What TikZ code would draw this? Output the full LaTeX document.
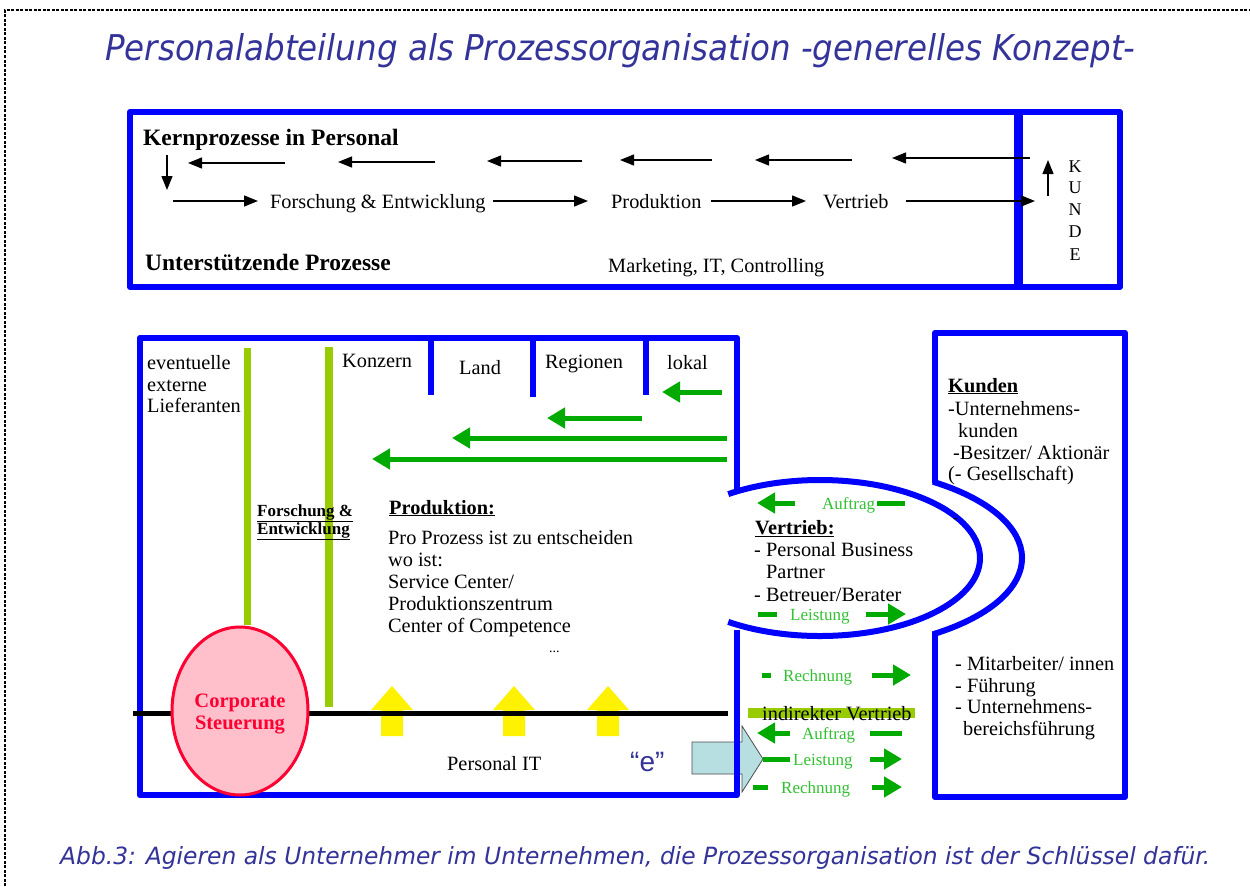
\documentclass[tikz,border=0pt]{standalone}
\usepackage{fontspec}
\setmainfont{Liberation Serif}
\newfontfamily\titlefont{DejaVu Sans}
\newfontfamily\arialfont{Liberation Sans}
\usetikzlibrary{arrows.meta}
\definecolor{tblue}{HTML}{333399}
\definecolor{bblue}{HTML}{0000FF}
\definecolor{agreen}{HTML}{00AA00}
\definecolor{tgreen}{HTML}{33C033}
\definecolor{lgreen}{HTML}{99CC00}
\definecolor{cred}{HTML}{FF0033}
\definecolor{cpink}{HTML}{FFC0CB}
\definecolor{ablue}{HTML}{B7DFE2}
\tikzset{
  t/.style={font=\fontsize{20.3}{22}\selectfont, inner sep=0pt, anchor=base west},
  tb/.style={font=\fontsize{20.3}{22}\selectfont\bfseries, inner sep=0pt, anchor=base west},
  gt/.style={font=\fontsize{17}{19}\selectfont, text=tgreen, inner sep=0pt, anchor=base west},
  garr/.style={draw=agreen, line width=5pt, -{Triangle[length=18pt,width=20pt]}},
  gdash/.style={draw=agreen, line width=5pt},
  barr/.style={line width=1.3pt, -{Triangle[length=14pt,width=11pt]}},
  bluebox/.style={draw=bblue, line width=6.5pt, line join=round},
  tabline/.style={draw=bblue, line width=6pt},
  lgbar/.style={draw=lgreen, line width=8pt},
  cstext/.style={font=\fontsize{20.5}{22}\selectfont\bfseries, text=cred, inner sep=0pt, anchor=base},
}
\begin{document}
\begin{tikzpicture}[x=1pt,y=-1pt]
\useasboundingbox (0,0) rectangle (1250,886);
\fill[white] (0,0) rectangle (1250,886);
% dashed frame
\draw[line width=1.2pt, dash pattern=on 3pt off 1.5pt] (5,886) -- (5,10) -- (1250,10);
% title
\node[inner sep=0pt, anchor=base west, text=tblue] (title) at (105,60)
  {\resizebox{1030pt}{27pt}{\titlefont\itshape Personalabteilung als Prozessorganisation -generelles Konzept-}};
% caption
\node[inner sep=0pt, anchor=base west, text=tblue] (caption) at (60,864)
  {\resizebox{1150pt}{18pt}{\titlefont\itshape Abb.3: Agieren als Unternehmer im Unternehmen, die Prozessorganisation ist der Schlüssel dafür.}};

% ---------- top box ----------
\draw[bluebox, line width=6pt] (130,112) rectangle (1120,287);
\draw[bblue, line width=9pt] (1018,112) -- (1018,287);
\node[tb, font=\fontsize{23.5}{25}\selectfont\bfseries] (kern) at (143,145) {Kernprozesse in Personal};
\node[tb, font=\fontsize{23.5}{25}\selectfont\bfseries] (unter) at (145,270) {Unterstützende Prozesse};
\node[t] (fe) at (270,208) {Forschung \& Entwicklung};
\node[t] (prod) at (611,208) {Produktion};
\node[t] (vert) at (823,208) {Vertrieb};
\node[t] (mit) at (608,272) {Marketing, IT, Controlling};
\foreach \l/\yy [count=\i] in {K/172,U/193,N/215,D/237,E/260}
  \node[font=\fontsize{18}{20}\selectfont, inner sep=0pt, anchor=base] (kd\i) at (1075,\yy) {\l};
% back arrows
\coordinate (b1s) at (285,163); \coordinate (b1e) at (188,163);
\coordinate (b2s) at (435,162); \coordinate (b2e) at (338,162);
\coordinate (b3s) at (582,161); \coordinate (b3e) at (487,161);
\coordinate (b4s) at (712,160); \coordinate (b4e) at (620,160);
\coordinate (b5s) at (852,160); \coordinate (b5e) at (755,160);
\coordinate (b6s) at (1030,158); \coordinate (b6e) at (892,158);
\foreach \i in {1,...,6} \draw[barr] (b\i s) -- (b\i e);
\coordinate (dns) at (167,155); \coordinate (dne) at (167,190);
\draw[barr] (dns) -- (dne);
\coordinate (ups) at (1048,196); \coordinate (upe) at (1048,160);
\draw[barr] (ups) -- (upe);
\coordinate (f1s) at (173,201); \coordinate (f1e) at (258,201);
\coordinate (f2s) at (493,201); \coordinate (f2e) at (588,201);
\coordinate (f3s) at (711,201); \coordinate (f3e) at (806,201);
\coordinate (f4s) at (906,201); \coordinate (f4e) at (1035,201);
\foreach \i in {1,...,4} \draw[barr] (f\i s) -- (f\i e);

% ---------- lower section ----------
% e arrow (behind box edge)
\draw[fill=ablue, draw=black!70, line width=0.8pt]
  (692,742) -- (742,742) -- (742,726) -- (763,759) -- (742,792) -- (742,774) -- (692,774) -- cycle;
\node[inner sep=0pt, anchor=base west, text=tblue, font=\arialfont\fontsize{28}{30}\selectfont] (e) at (630,771) {“e”};

% main box
\draw[bluebox] (737,490) -- (737,338) -- (140,338) -- (140,795) -- (737,795) -- (737,630);
\draw[tabline] (431,338) -- (431,395);
\draw[tabline] (533,338) -- (533,397);
\draw[tabline] (646,338) -- (646,395);
% Vertrieb ellipse
\fill[white] (820,558) ellipse[x radius=160, y radius=78];
\draw[bluebox, line width=6pt] (820,558) ++(125:160 and 78) arc[start angle=125, end angle=-125, x radius=160, y radius=78];
% Kunden box
\draw[bluebox] (935,483) -- (935,333) -- (1125,333) -- (1125,797) -- (935,797) -- (935,632);
\draw[bluebox, line width=6pt] (820,558) ++(56:202 and 92) arc[start angle=56, end angle=-56, x radius=202, y radius=92];

% light green bars
\draw[lgbar, line width=7pt] (247,348) -- (247,625);
\draw[lgbar] (329,347) -- (329,707);

% yellow arrows
\foreach \cx in {392,514,608}
  \fill[yellow] (\cx-11,736) -- (\cx-11,710) -- (\cx-21,710) -- (\cx,686) -- (\cx+21,710) -- (\cx+11,710) -- (\cx+11,736) -- cycle;
% black line
\coordinate (pl1) at (133,713); \coordinate (pl2) at (728,713);
\draw[line width=5pt] (pl1) -- (pl2);
% corporate steuerung
\draw[draw=cred, fill=cpink, line width=3pt] (240,711) ellipse[x radius=68, y radius=84];
\node[cstext] (cs1) at (240,707) {Corporate};
\node[cstext] (cs2) at (240,729) {Steuerung};

% green arrows at top
\coordinate (g1s) at (722,392); \coordinate (g1e) at (662,392);
\coordinate (g2s) at (642,418); \coordinate (g2e) at (547,418);
\coordinate (g3s) at (727,438); \coordinate (g3e) at (452,438);
\coordinate (g4s) at (727,459); \coordinate (g4e) at (372,459);
\foreach \i in {1,...,4} \draw[garr] (g\i s) -- (g\i e);

% texts main box
\node[t] (ev1) at (147,369) {eventuelle};
\node[t] (ev2) at (147,391) {externe};
\node[t] (ev3) at (147,412) {Lieferanten};
\node[t] (konz) at (342,367) {Konzern};
\node[t] (land) at (459,374) {Land};
\node[t] (reg) at (545,368) {Regionen};
\node[t] (lok) at (667,369) {lokal};
\node[tb, font=\fontsize{17}{19}\selectfont\bfseries] (fe1) at (257,516) {\underline{Forschung \&}};
\node[tb, font=\fontsize{17}{19}\selectfont\bfseries] (fe2) at (257,534) {\underline{Entwicklung}};
\node[tb] (prodh) at (389,514) {\underline{Produktion:}};
\node[t] (p1) at (388,544) {Pro Prozess ist zu entscheiden};
\node[t] (p2) at (388,566) {wo ist:};
\node[t] (p3) at (388,588) {Service Center/};
\node[t] (p4) at (388,610) {Produktionszentrum};
\node[t] (p5) at (388,632) {Center of Competence};
\node[t, font=\fontsize{14}{16}\selectfont] (p6) at (549,652) {...};
\node[t] (pit) at (447,770) {Personal IT};

% Vertrieb ellipse content
\coordinate (a1s) at (795,503); \coordinate (a1e) at (757,503);
\draw[garr] (a1s) -- (a1e);
\node[gt] (auf1) at (822,509) {Auftrag};
\coordinate (a1d1) at (877,503); \coordinate (a1d2) at (905,503);
\draw[gdash] (a1d1) -- (a1d2);
\node[tb] (verh) at (755,534) {\underline{Vertrieb:}};
\node[t] (v1) at (754,556) {- Personal Business};
\node[t] (v2) at (766,578) {Partner};
\node[t] (v3) at (754,601) {- Betreuer/Berater};
\coordinate (l1d1) at (758,614); \coordinate (l1d2) at (777,614);
\draw[gdash] (l1d1) -- (l1d2);
\node[gt] (lei1) at (790,620) {Leistung};
\coordinate (l1s) at (866,614); \coordinate (l1e) at (906,614);
\draw[garr] (l1s) -- (l1e);

% below ellipse
\coordinate (r1d1) at (762,675); \coordinate (r1d2) at (771,675);
\draw[gdash] (r1d1) -- (r1d2);
\node[gt] (rech1) at (783,681) {Rechnung};
\coordinate (r1s) at (872,675); \coordinate (r1e) at (911,675);
\draw[garr] (r1s) -- (r1e);

\fill[lgreen] (748,708) rectangle (915,718);
\node[t] (indv) at (762,720) {indirekter Vertrieb};

\coordinate (a2s) at (790,733); \coordinate (a2e) at (757,733);
\draw[garr] (a2s) -- (a2e);
\node[gt] (auf2) at (802,739) {Auftrag};
\coordinate (a2d1) at (870,733); \coordinate (a2d2) at (902,733);
\draw[gdash] (a2d1) -- (a2d2);

\coordinate (l2d1) at (763,759); \coordinate (l2d2) at (790,759);
\draw[gdash] (l2d1) -- (l2d2);
\node[gt] (lei2) at (793,765) {Leistung};
\coordinate (l2s) at (870,759); \coordinate (l2e) at (902,759);
\draw[garr] (l2s) -- (l2e);

\coordinate (r2d1) at (753,787); \coordinate (r2d2) at (768,787);
\draw[gdash] (r2d1) -- (r2d2);
\node[gt] (rech2) at (781,793) {Rechnung};
\coordinate (r2s) at (872,787); \coordinate (r2e) at (902,787);
\draw[garr] (r2s) -- (r2e);

% Kunden texts
\node[tb] (kh) at (948,392) {\underline{Kunden}};
\node[t] (k1) at (948,415) {-Unternehmens-};
\node[t] (k2) at (958,437) {kunden};
\node[t] (k3) at (953,459) {-Besitzer/ Aktionär};
\node[t] (k4) at (948,480) {(- Gesellschaft)};
\node[t, font=\fontsize{14}{16}\selectfont] (k5) at (953,522) {-};
\node[t] (m1) at (955,670) {- Mitarbeiter/ innen};
\node[t] (m2) at (955,692) {- Führung};
\node[t] (m3) at (955,713) {- Unternehmens-};
\node[t] (m4) at (963,735) {bereichsführung};
\end{tikzpicture}
\end{document}
